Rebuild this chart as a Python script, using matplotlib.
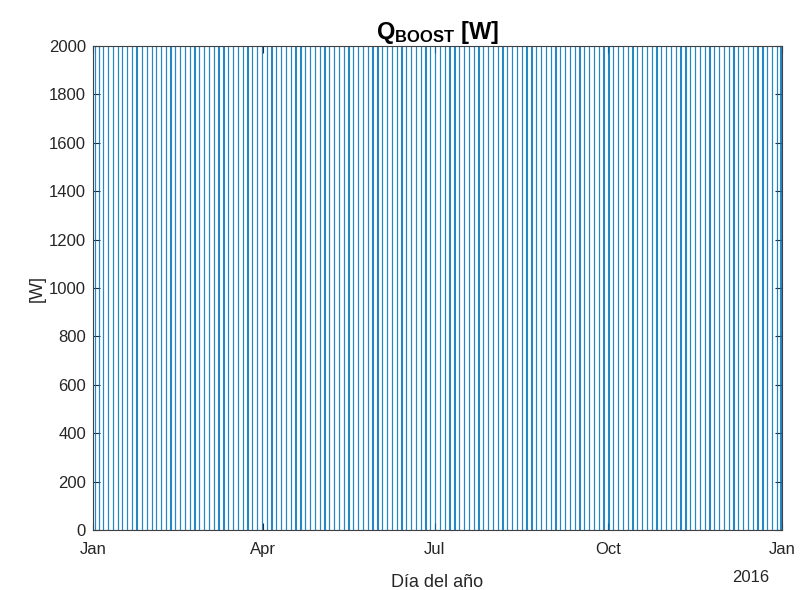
import numpy as np
import matplotlib
matplotlib.use("Agg")
import matplotlib.pyplot as plt

plt.rcParams['font.family'] = ['Liberation Sans', 'DejaVu Sans']
plt.rcParams['mathtext.fontset'] = 'custom'
plt.rcParams['mathtext.rm'] = 'Liberation Sans'
plt.rcParams['mathtext.bf'] = 'Liberation Sans:bold'

# Days (since 1 Jan 2015) at which the boost heater switches on
pulse_days = [
    1.2, 3.2, 5.3, 7.9, 10.6, 13.2, 15.4, 17.9, 20.6, 23.0, 25.8, 28.5, 31.1, 33.4,
    35.9, 38.5, 41.0, 43.6, 46.1, 48.7, 51.2, 53.8, 56.3, 58.9, 61.4, 64.0, 66.5,
    69.1, 71.6, 74.2, 76.7, 79.3, 81.8, 84.4, 86.9, 89.5, 92.0, 94.6, 97.1, 99.7,
    102.2, 104.8, 107.3, 109.9, 112.4, 115.0, 117.5, 120.1, 122.6, 125.2, 127.7,
    130.3, 132.8, 135.4, 137.9, 140.5, 143.0, 145.6, 148.1, 150.7, 153.2, 155.8,
    158.3, 160.9, 163.4, 166.0, 168.5, 171.1, 173.6, 176.2, 178.7, 181.3, 183.8,
    186.4, 188.9, 191.5, 194.0, 196.6, 199.1, 201.7, 204.2, 206.8, 209.3, 211.9,
    214.4, 217.0, 219.5, 222.1, 224.6, 227.2, 229.7, 232.3, 234.8, 237.4, 239.9,
    242.5, 245.0, 247.6, 250.1, 252.7, 255.2, 257.8, 260.3, 262.9, 265.4, 268.0,
    270.5, 273.1, 275.6, 278.2, 280.7, 283.3, 285.8, 288.4, 290.9, 293.5, 296.0,
    298.6, 301.1, 303.7, 306.2, 308.8, 311.3, 313.9, 316.4, 319.0, 321.5, 324.1,
    326.6, 329.2, 331.7, 334.3, 336.8, 339.4, 341.9, 344.5, 347.0, 349.6, 352.1,
    354.7, 357.2, 359.8, 362.3, 364.3,
]
boost_power = 2000  # W while on
pulse_length = 0.12  # days

month_ticks = [0, 90, 181, 273, 365]
month_labels = ['Jan', 'Apr', 'Jul', 'Oct', 'Jan']

# build the on/off signal
t = [0.0]
q = [0.0]
for d in pulse_days:
    t += [d, d, d + pulse_length, d + pulse_length]
    q += [0, boost_power, boost_power, 0]
t.append(365.0)
q.append(0.0)

fig = plt.figure(figsize=(8.01, 5.90), dpi=100)
ax = fig.add_axes([0.116, 0.1017, 0.86, 0.8203])

ax.plot(t, q, color='#0072BD', linewidth=0.8, alpha=0.85)

ax.set_xlim(0, 365)
ax.set_ylim(0, 2000)
ax.set_yticks(np.arange(0, 2001, 200))
ax.set_xticks(month_ticks)
ax.set_xticklabels(month_labels)

grey = '#262626'
for s in ax.spines.values():
    s.set_color('#404040')
    s.set_linewidth(0.8)
ax.tick_params(direction='in', top=True, right=True, length=5, width=0.8,
               colors=grey, labelsize=12, labelcolor=grey)
ax.tick_params(axis='x', pad=9)
ax.tick_params(axis='y', pad=5)

ax.set_title(r'$\mathbf{Q_{BOOST}}$ [W]', fontsize=17, fontweight='bold', color='black', pad=5)
ax.set_xlabel('Día del año', fontsize=13, color=grey, labelpad=12)
ax.set_ylabel('[W]', fontsize=13, color=grey, labelpad=2)
ax.text(0.955, -0.098, '2016', transform=ax.transAxes, fontsize=12, color=grey,
        ha='center', va='center')

fig.savefig('out.png', dpi=100)
